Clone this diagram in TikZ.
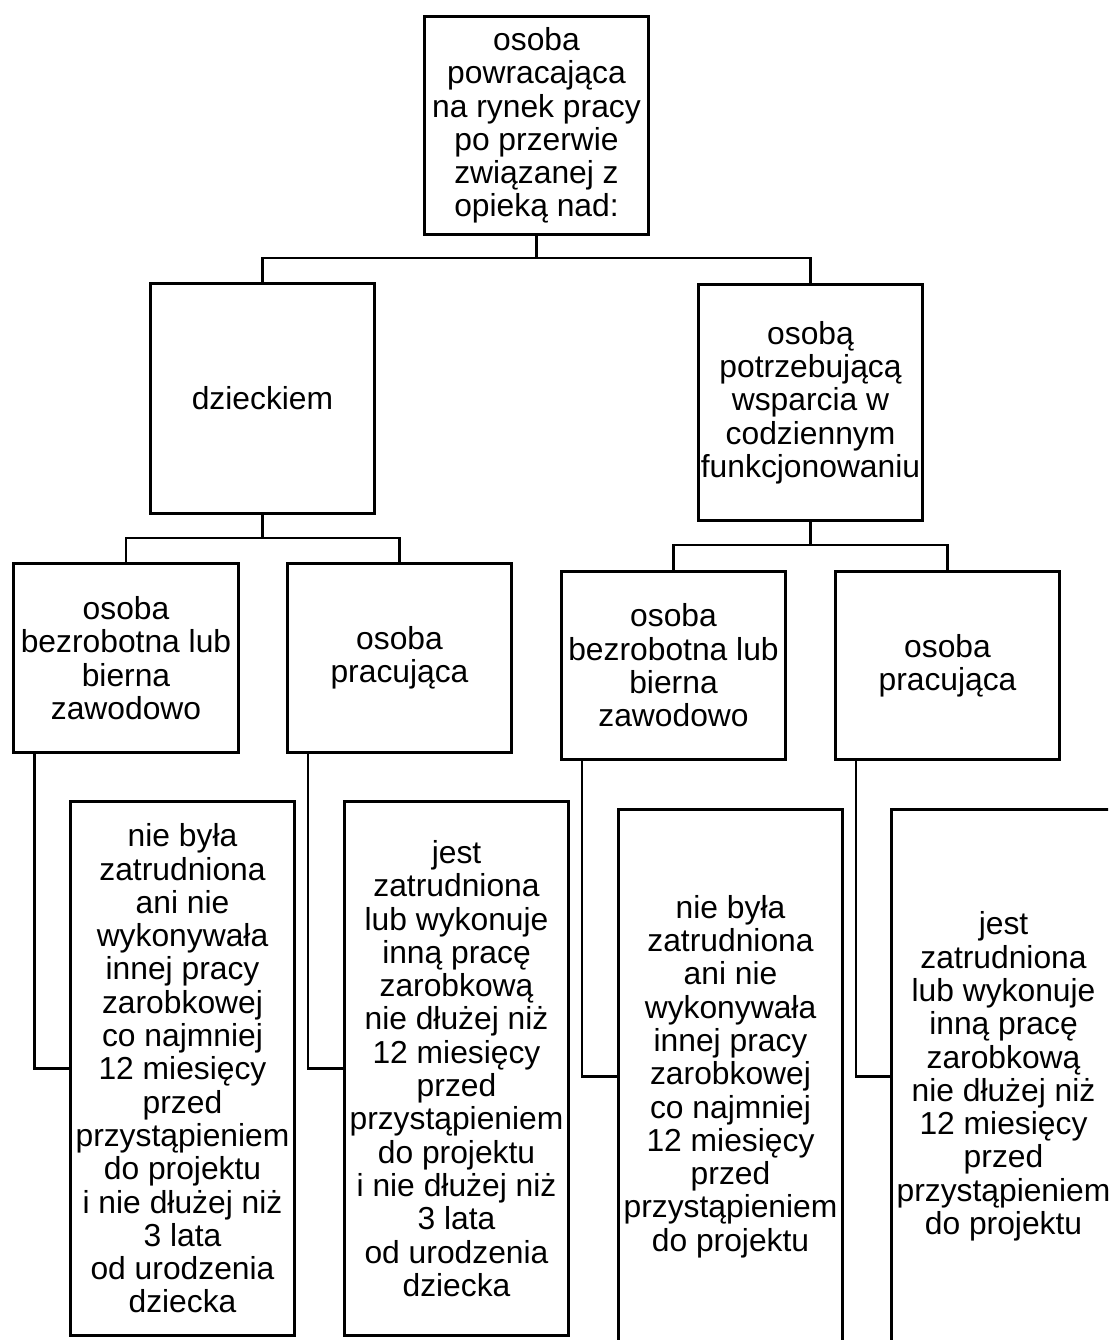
\documentclass[tikz,border=0pt]{standalone}
\usepackage{fontspec}
\setmainfont{Liberation Sans}
\begin{document}
\begin{tikzpicture}[x=1pt, y=-1pt, line width=2.7pt,
  box/.style={shape=rectangle, draw=black, line width=2.7pt, minimum width=224.5pt, align=center, inner sep=0pt,
    font=\fontsize{31.8pt}{33.3pt}\selectfont}]
\path[use as bounding box, clip] (0,0) rectangle (1108,1340);
\node[box, minimum height=218.5pt] (top) at (536.5,125.5) {osoba\\powracająca\\na rynek pracy\\po przerwie\\związanej z\\opieką nad:};
\node[box, minimum height=230.5pt] (child) at (262.5,398.5) {dzieckiem};
\node[box, minimum height=236.5pt] (care) at (810.5,402.5) {osobą\\potrzebującą\\wsparcia w\\codziennym\\funkcjonowaniu};
\node[box, minimum height=189.5pt] (u1) at (126,658) {osoba\\bezrobotna lub\\bierna\\zawodowo};
\node[box, minimum height=189.5pt] (w1) at (399.5,658) {osoba\\pracująca};
\node[box, minimum height=188.5pt] (u2) at (673.5,665.5) {osoba\\bezrobotna lub\\bierna\\zawodowo};
\node[box, minimum height=188.5pt] (w2) at (947.5,665.5) {osoba\\pracująca};
\node[box, minimum height=534.5pt] (n1) at (182.5,1068.5) {nie była\\zatrudniona\\ani nie\\wykonywała\\innej pracy\\zarobkowej\\co najmniej\\12 miesięcy\\przed\\przystąpieniem\\do projektu\\i nie dłużej niż\\3 lata\\od urodzenia\\dziecka};
\node[box, minimum height=534.5pt] (n2) at (456.5,1068.5) {jest\\zatrudniona\\lub wykonuje\\inną pracę\\zarobkową\\nie dłużej niż\\12 miesięcy\\przed\\przystąpieniem\\do projektu\\i nie dłużej niż\\3 lata\\od urodzenia\\dziecka};
\node[box, minimum height=534.5pt] (n3) at (730.5,1076.5) {nie była\\zatrudniona\\ani nie\\wykonywała\\innej pracy\\zarobkowej\\co najmniej\\12 miesięcy\\przed\\przystąpieniem\\do projektu};
\node[box, minimum height=534.5pt] (n4) at (1003.5,1076.5) {jest\\zatrudniona\\lub wykonuje\\inną pracę\\zarobkową\\nie dłużej niż\\12 miesięcy\\przed\\przystąpieniem\\do projektu};
\draw (top.south) -- ++(0,22) -| (child.north);
\draw (top.south) -- ++(0,22) -| (care.north);
\draw (child.south) -- ++(0,23) -| (u1.north);
\draw (child.south) -- ++(0,23) -| (w1.north);
\draw (care.south) -- ++(0,23) -| (u2.north);
\draw (care.south) -- ++(0,23) -| (w2.north);
\draw ([xshift=22pt]u1.south west) |- (n1.west);
\draw ([xshift=22pt]w1.south west) |- (n2.west);
\draw ([xshift=22pt]u2.south west) |- (n3.west);
\draw ([xshift=22pt]w2.south west) |- (n4.west);
\end{tikzpicture}
\end{document}
